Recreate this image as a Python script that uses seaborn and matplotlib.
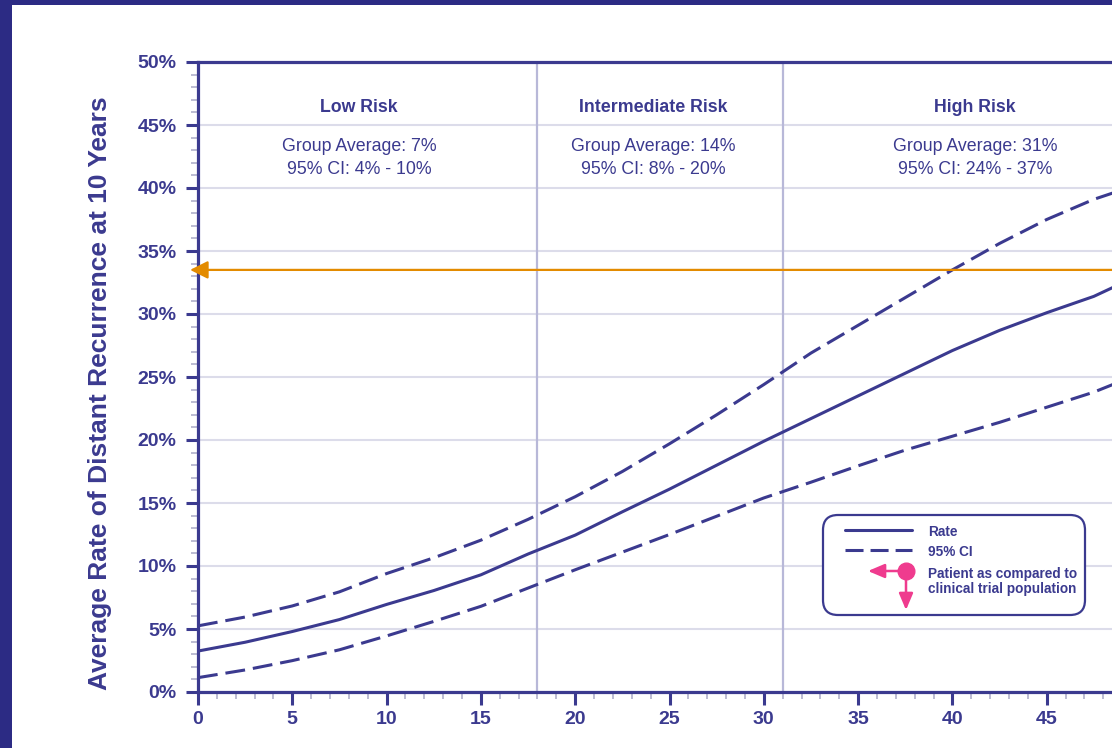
import matplotlib
matplotlib.use("Agg")
import numpy as np
import pandas as pd
import matplotlib.pyplot as plt
import seaborn as sns
from matplotlib.patches import FancyBboxPatch, FancyArrowPatch, Rectangle
from matplotlib.lines import Line2D
from matplotlib.ticker import MultipleLocator

# ---- data -------------------------------------------------------------
# Recurrence score (x) and average 10-year distant recurrence rate in % (y)
score = [0, 2.5, 5, 7.5, 10, 12.5, 15, 17.5, 20, 22.5, 25, 27.5, 30,
         32.5, 35, 37.5, 40, 42.5, 45, 47.5, 48.5]
rate = [3.25, 3.95, 4.8, 5.75, 6.95, 8.05, 9.3, 10.95, 12.45, 14.3, 16.1,
        18.0, 19.9, 21.7, 23.5, 25.3, 27.1, 28.7, 30.1, 31.4, 32.1]
ci_upper = [5.25, 5.95, 6.83, 7.95, 9.4, 10.65, 12.05, 13.7, 15.5, 17.5,
            19.7, 22.0, 24.4, 26.9, 29.1, 31.3, 33.5, 35.6, 37.5, 39.1, 39.6]
ci_lower = [1.14, 1.75, 2.49, 3.35, 4.45, 5.6, 6.8, 8.25, 9.7, 11.1, 12.5,
            13.95, 15.4, 16.65, 17.95, 19.2, 20.3, 21.4, 22.6, 23.8, 24.4]

risk_cutoffs = [18, 31]
risk_groups = ["Low Risk", "Intermediate Risk", "High Risk"]
group_average = [7, 14, 31]
group_ci_low = [4, 8, 24]
group_ci_high = [10, 20, 37]

patient_rate = 33.5

x_ticks = list(range(0, 46, 5))
y_ticks = list(range(0, 51, 5))
y_tick_labels = [f"{t}%" for t in y_ticks]

# ---- style ------------------------------------------------------------
sns.set_style("white")
plt.rcParams["font.family"] = ["Liberation Sans", "DejaVu Sans"]

NAVY = "#3b3a8f"
FRAME = "#2c2b84"
GRID = "#dcdcea"
REGION = "#b8b8d8"
MINOR = "#a9a9c6"
ORANGE = "#e38b00"
PINK = "#ef3b8e"

W, H = 1112, 748
fig = plt.figure(figsize=(W / 100, H / 100), dpi=100)
fig.patch.set_facecolor(FRAME)
fig.add_artist(Rectangle((12 / W, 0), 1, 1 - 5 / H, transform=fig.transFigure,
                         facecolor="white", edgecolor="none", zorder=-1))


def fp(x, y):
    """Pixel position (from the top-left corner) to figure fraction."""
    return x / W, 1 - y / H


ax = fig.add_axes([198 / W, 56 / H, 943 / W, 630 / H])
ax.set_facecolor("white")

# ---- curves -----------------------------------------------------------
df = pd.DataFrame({
    "score": score * 3,
    "value": rate + ci_upper + ci_lower,
    "curve": ["Rate"] * len(score) + ["95% CI upper"] * len(score)
             + ["95% CI lower"] * len(score),
})
dash = (6.5, 2.6)
sns.lineplot(data=df, x="score", y="value", style="curve",
             dashes={"Rate": "", "95% CI upper": dash, "95% CI lower": dash},
             color=NAVY, lw=2.2, errorbar=None, legend=False, ax=ax,
             zorder=4)

for c in risk_cutoffs:
    ax.axvline(c, color=REGION, lw=1.6, zorder=1)

# ---- axes -------------------------------------------------------------
ax.set_xlim(0, 50)
ax.set_ylim(0, 50)
ax.set_xticks(x_ticks, labels=[str(t) for t in x_ticks], fontsize=14,
              fontweight="bold", color=NAVY)
ax.set_yticks(y_ticks, labels=y_tick_labels, fontsize=14,
              fontweight="bold", color=NAVY)
ax.xaxis.set_minor_locator(MultipleLocator(1))
ax.yaxis.set_minor_locator(MultipleLocator(1))
ax.tick_params(which="both", bottom=True, left=True, top=False, right=False)
ax.tick_params(which="major", direction="out", length=9, width=2.2,
               color=NAVY, labelcolor=NAVY)
ax.tick_params(axis="x", which="major", pad=4.5)
ax.tick_params(axis="y", which="major", pad=6.5)
ax.tick_params(which="minor", direction="out", length=5, width=1.1,
               color=MINOR)
ax.yaxis.grid(True, color=GRID, lw=1.5, zorder=0)
ax.xaxis.grid(False)
ax.set_axisbelow(True)
for s in ["left", "bottom", "top"]:
    ax.spines[s].set_color(NAVY)
    ax.spines[s].set_linewidth(2.3)
ax.spines["right"].set_visible(False)
ax.set_xlabel("")
ax.set_ylabel("Average Rate of Distant Recurrence at 10 Years",
              fontsize=19, fontweight="heavy", color=NAVY)
ax.yaxis.set_label_coords(-0.0915, 0.4738)

# ---- risk group annotations --------------------------------------------
label_x = [8.55, 24.15, 41.2]
for xc, name, avg, lo, hi in zip(label_x, risk_groups, group_average,
                                 group_ci_low, group_ci_high):
    ax.text(xc, 46.06, name, ha="center", va="baseline", fontsize=12.8,
            fontweight="bold", color=NAVY)
    ax.text(xc, 42.94, f"Group Average: {avg}%", ha="center",
            va="baseline", fontsize=12.8, color=NAVY)
    ax.text(xc, 41.11, f"95% CI: {lo}% - {hi}%", ha="center",
            va="baseline", fontsize=12.8, color=NAVY)

# ---- patient marker arrow ---------------------------------------------
ax.annotate("", xy=(-0.42, patient_rate), xytext=(51, patient_rate),
            xycoords="data", textcoords="data", annotation_clip=False,
            arrowprops=dict(arrowstyle="-|>,head_length=0.4,head_width=0.2",
                            mutation_scale=27, color=ORANGE, lw=1.6,
                            shrinkA=0, shrinkB=0),
            zorder=6)

# ---- key --------------------------------------------------------------
bx0, by0 = fp(823, 615)
bx1, by1 = fp(1085, 515)
fig.add_artist(FancyBboxPatch((bx0, by0), bx1 - bx0, by1 - by0,
                              boxstyle=f"round,pad=0,rounding_size={15 / W}",
                              mutation_aspect=W / H,
                              transform=fig.transFigure, facecolor="white",
                              edgecolor=NAVY, lw=1.6, zorder=5))
xa, ya = fp(845, 530)
xb, _ = fp(912, 530)
fig.add_artist(Line2D([xa, xb], [ya, ya], transform=fig.transFigure,
                      color=NAVY, lw=2.2, zorder=6))
_, yc = fp(845, 550)
fig.add_artist(Line2D([xa, xb], [yc, yc], transform=fig.transFigure,
                      color=NAVY, lw=2.2, linestyle=(0, (5.9, 2.3)),
                      zorder=6))

cx, cy = fp(906, 571)
tipl = fp(868, 571)
tipd = fp(906, 610)
for tip in (tipl, tipd):
    fig.add_artist(FancyArrowPatch((cx, cy), tip, transform=fig.transFigure,
                                   arrowstyle="-|>,head_length=0.4,head_width=0.17",
                                   mutation_scale=25, color=PINK, lw=1.8,
                                   shrinkA=0, shrinkB=0, zorder=6))
fig.add_artist(Line2D([cx], [cy], transform=fig.transFigure, marker="o",
                      markersize=12, color=PINK, lw=0, zorder=7))

key_text = [("Rate", 536), ("95% CI", 556.5), ("Patient as compared to", 578),
            ("clinical trial population", 593)]
for txt, yb in key_text:
    tx, ty = fp(928, yb)
    fig.text(tx, ty, txt, fontsize=9.8, fontweight="bold", color=NAVY,
             va="baseline", ha="left", zorder=7)

fig.savefig("out.png", dpi=100, facecolor=fig.get_facecolor())
